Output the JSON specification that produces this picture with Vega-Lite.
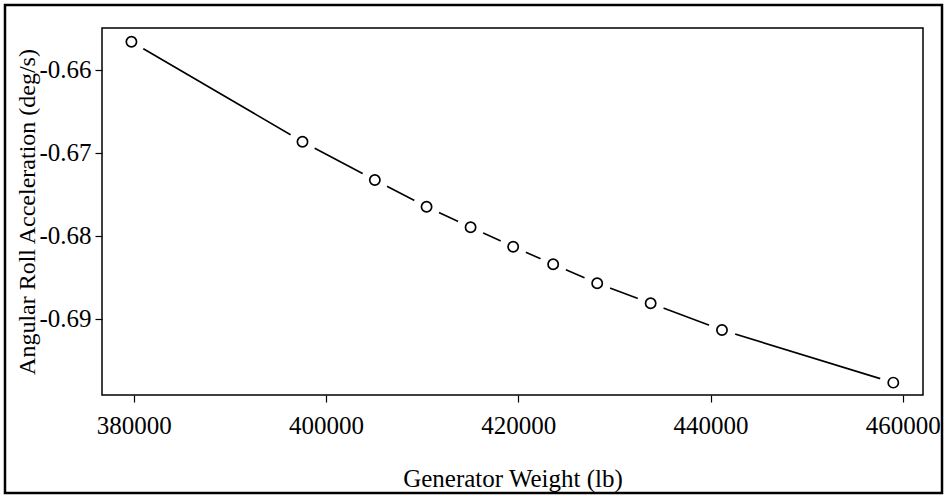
{
  "$schema": "https://vega.github.io/schema/vega-lite/v6.json",
  "width": 821,
  "height": 367,
  "autosize": {"type": "none"},
  "padding": {"left": 102, "top": 28, "right": 24, "bottom": 101},
  "background": "white",
  "config": {
    "view": {"stroke": null},
    "font": "Liberation Serif",
    "axis": {
      "grid": false,
      "domain": false,
      "tickColor": "black",
      "tickSize": 7,
      "tickWidth": 1.2,
      "labelFont": "Liberation Serif",
      "labelFontSize": 25,
      "labelColor": "black",
      "titleFont": "Liberation Serif",
      "titleFontSize": 24,
      "titleFontWeight": "normal",
      "titleColor": "black"
    }
  },
  "datasets": {
    "pts": [
      {"weight": 379760, "accel": -0.65659},
      {"weight": 397555, "accel": -0.66864},
      {"weight": 405080, "accel": -0.67325},
      {"weight": 410460, "accel": -0.67647},
      {"weight": 415040, "accel": -0.67895},
      {"weight": 419470, "accel": -0.68129},
      {"weight": 423630, "accel": -0.68341},
      {"weight": 428210, "accel": -0.68570},
      {"weight": 433770, "accel": -0.68811},
      {"weight": 441190, "accel": -0.69133},
      {"weight": 459010, "accel": -0.69767}
    ],
    "frames": [
      {"x0": 376700, "x1": 462100, "y0": -0.65494, "y1": -0.69916, "w": 1.5},
      {"x0": 366610, "x1": 464077, "y0": -0.65217, "y1": -0.71097, "w": 2.5}
    ]
  },
  "layer": [
    {
      "data": {"name": "pts"},
      "mark": {"type": "line", "color": "black", "strokeWidth": 1.6},
      "encoding": {
        "x": {
          "field": "weight", "type": "quantitative",
          "scale": {"domain": [376700, 462100], "nice": false, "zero": false},
          "axis": {
            "values": [380000, 400000, 420000, 440000, 460000],
            "format": "d",
            "labelPadding": 11,
            "title": "Generator Weight (lb)",
            "titleFontSize": 25,
            "titlePadding": 28
          }
        },
        "y": {
          "field": "accel", "type": "quantitative",
          "scale": {"domain": [-0.69916, -0.65494], "nice": false, "zero": false},
          "axis": {
            "values": [-0.69, -0.68, -0.67, -0.66],
            "format": ".2f",
            "labelExpr": "replace(datum.label, '\u2212', '-')",
            "labelPadding": 4,
            "title": "Angular Roll Acceleration (deg/s)",
            "titlePadding": -1
          }
        }
      }
    },
    {
      "data": {"name": "pts"},
      "mark": {"type": "point", "shape": "circle", "filled": true, "color": "white", "opacity": 1, "size": 760},
      "encoding": {
        "x": {"field": "weight", "type": "quantitative"},
        "y": {"field": "accel", "type": "quantitative"}
      }
    },
    {
      "data": {"name": "pts"},
      "mark": {"type": "point", "shape": "circle", "filled": false, "fill": "white", "fillOpacity": 1, "stroke": "black", "strokeWidth": 1.7, "opacity": 1, "size": 105},
      "encoding": {
        "x": {"field": "weight", "type": "quantitative"},
        "y": {"field": "accel", "type": "quantitative"}
      }
    },
    {
      "data": {"name": "frames"},
      "mark": {"type": "rect", "fill": null, "fillOpacity": 0, "stroke": "black", "clip": false},
      "encoding": {
        "x": {"field": "x0", "type": "quantitative"},
        "x2": {"field": "x1"},
        "y": {"field": "y0", "type": "quantitative"},
        "y2": {"field": "y1"},
        "strokeWidth": {"field": "w", "type": "quantitative", "scale": null, "legend": null}
      }
    }
  ]
}
